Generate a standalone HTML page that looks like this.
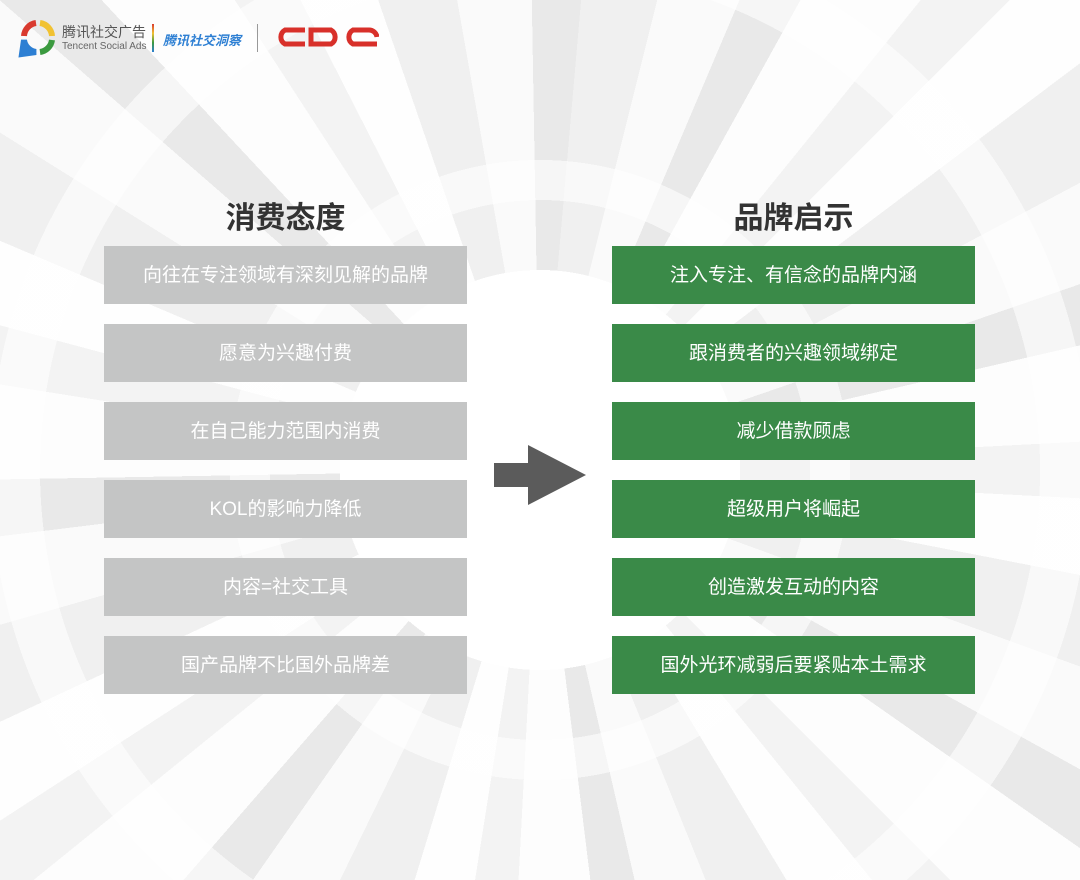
<!DOCTYPE html>
<html style="width:1080px;height:880px;overflow:hidden"><head><meta charset="utf-8"><style>
body{margin:0;width:1080px;height:880px;overflow:hidden;position:relative;font-family:"Liberation Sans","Noto Sans CJK SC",sans-serif;
background:
radial-gradient(circle at 540px 470px, #fff 0 200px, rgba(255,255,255,0) 200px 270px, rgba(255,255,255,0.6) 270px 310px, rgba(255,255,255,0) 310px 500px, rgba(255,255,255,0.6) 500px 550px, rgba(255,255,255,0) 550px 740px, rgba(255,255,255,0.6) 740px 800px, rgba(255,255,255,0) 800px),
repeating-conic-gradient(from 5deg at 540px 470px, #f0f0f0 0 9deg, #fafafa 9deg 18deg, #e9e9e9 18deg 24deg, #fdfdfd 24deg 34deg, #f3f3f3 34deg 40deg, #fefefe 40deg 48deg);}
.box{position:absolute;width:363px;height:58px;line-height:60px;text-align:center;color:#fff;font-size:19px}
.l{left:104px;background:#c4c5c5}
.r{left:612px;background:#3a8a48}
h2{position:absolute;margin:0;font-size:30px;color:#333;font-weight:bold;width:363px;text-align:center;top:193px}
</style></head><body>
<svg style="position:absolute;left:18px;top:18px" width="40" height="40" viewBox="0 0 40 40">
<path d="M6 18 A14 14 0 0 1 18 5" stroke="#d93a2f" stroke-width="6" fill="none"/>
<path d="M22 5 A14 14 0 0 1 34 18" stroke="#f1c232" stroke-width="6" fill="none"/>
<path d="M34 22 A14 14 0 0 1 22 34" stroke="#3b9a3f" stroke-width="6" fill="none"/>
<path d="M18 34 A14 14 0 0 1 6 22 L4 36 Z" stroke="#2d7fd3" stroke-width="6" fill="#2d7fd3"/>
</svg>
<div style="position:absolute;left:62px;top:22px;font-size:14px;color:#555">腾讯社交广告</div>
<div style="position:absolute;left:62px;top:41px;font-size:10px;color:#666">Tencent Social Ads</div>
<div style="position:absolute;left:152px;top:24px;width:2px;height:28px;background:linear-gradient(#d93a2f,#f1c232,#3b9a3f,#2d7fd3)"></div>
<div style="position:absolute;left:163px;top:30px;font-size:13px;color:#2d7fd3;font-style:italic;font-weight:bold">腾讯社交洞察</div>
<div style="position:absolute;left:257px;top:24px;width:1px;height:28px;background:#999"></div>
<svg style="position:absolute;left:273px;top:26px" width="106" height="22" viewBox="0 0 106 22">
<g stroke="#d8302a" stroke-width="5" fill="none"><path d="M32 4 H12 A8 8 0 0 0 12 18 H32"/><path d="M38 4 H58 A8 8 0 0 1 58 18 H38 Z"/><path d="M104 11 V11 A8 8 0 0 0 96 4 H80 A8 8 0 0 0 80 18 H104"/></g></svg>
<h2 style="left:104px">消费态度</h2>
<h2 style="left:612px">品牌启示</h2>
<div class="box l" style="top:246px">向往在专注领域有深刻见解的品牌</div>
<div class="box l" style="top:324px">愿意为兴趣付费</div>
<div class="box l" style="top:402px">在自己能力范围内消费</div>
<div class="box l" style="top:480px">KOL的影响力降低</div>
<div class="box l" style="top:558px">内容=社交工具</div>
<div class="box l" style="top:636px">国产品牌不比国外品牌差</div>
<div class="box r" style="top:246px">注入专注、有信念的品牌内涵</div>
<div class="box r" style="top:324px">跟消费者的兴趣领域绑定</div>
<div class="box r" style="top:402px">减少借款顾虑</div>
<div class="box r" style="top:480px">超级用户将崛起</div>
<div class="box r" style="top:558px">创造激发互动的内容</div>
<div class="box r" style="top:636px">国外光环减弱后要紧贴本土需求</div>
<svg style="position:absolute;left:494px;top:445px" width="94" height="62"><polygon points="0,18 34,18 34,0 92,30 34,60 34,42 0,42" fill="#5b5b5b"/></svg>
</body></html>
